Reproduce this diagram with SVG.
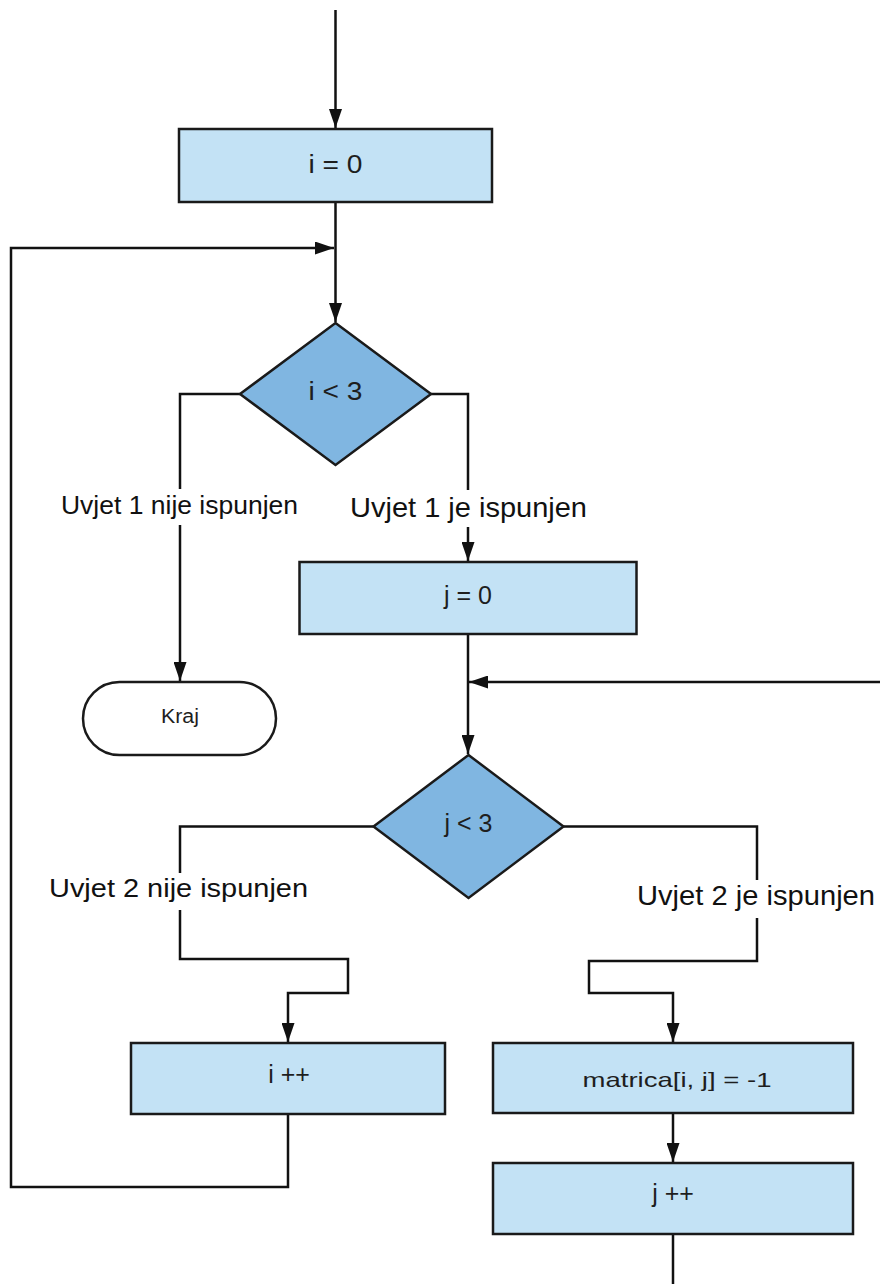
<svg xmlns="http://www.w3.org/2000/svg" width="880" height="1284" viewBox="0 0 880 1284">
<defs>
<marker id="ah" markerUnits="userSpaceOnUse" markerWidth="19" markerHeight="13" refX="19" refY="6.5" orient="auto">
<path d="M0,0 L19,6.5 L0,13 z" fill="#111"/>
</marker>
<style>
.box{fill:#C3E2F5;stroke:#1a1a1a;stroke-width:2.5}
.dia{fill:#80B6E1;stroke:#1a1a1a;stroke-width:2.5}
.term{fill:#fff;stroke:#1a1a1a;stroke-width:2.5}
.c{fill:none;stroke:#111;stroke-width:2.5}
.a{marker-end:url(#ah)}
text{font-family:"Liberation Sans",Arial,sans-serif;fill:#1e1e1e;text-anchor:middle}
.t{font-size:25px}
.lbl{font-size:27px;fill:#111}
</style>
</defs>
<rect width="880" height="1284" fill="#fff"/>
<g id="connectors">
<path class="c a" d="M335.5,10 V128"/>
<path class="c a" d="M335.5,202 V322"/>
<path class="c a" d="M288,1114 V1187 H11 V248 H334"/>
<path class="c" d="M240,394 H180 V489"/>
<path class="c a" d="M180,525 V681"/>
<path class="c" d="M431,394 H468 V490"/>
<path class="c a" d="M468,527 V561"/>
<path class="c a" d="M468,634 V754"/>
<path class="c a" d="M880,682 H469"/>
<path class="c" d="M373.5,826.5 H180 V873"/>
<path class="c a" d="M180,910 V959 H348 V993 H288 V1042"/>
<path class="c" d="M563.5,826.5 H757 V880"/>
<path class="c a" d="M757,918 V961 H589 V993 H673 V1042"/>
<path class="c a" d="M673,1113 V1162"/>
<path class="c" d="M673,1234 V1284"/>
</g>
<g id="label-u1-nije"><text class="lbl" x="179.5" y="514" font-size="26.5" style="font-size:26.5px" textLength="237" lengthAdjust="spacingAndGlyphs">Uvjet 1 nije ispunjen</text></g>
<g id="label-u1-je"><text class="lbl" x="468.5" y="517" style="font-size:28.5px" textLength="237" lengthAdjust="spacingAndGlyphs">Uvjet 1 je ispunjen</text></g>
<g id="label-u2-nije"><text class="lbl" x="178.5" y="897" style="font-size:26.5px" textLength="259" lengthAdjust="spacingAndGlyphs">Uvjet 2 nije ispunjen</text></g>
<g id="label-u2-je"><text class="lbl" x="756" y="905" style="font-size:28.5px" textLength="238" lengthAdjust="spacingAndGlyphs">Uvjet 2 je ispunjen</text></g>
<g id="node-i0">
<rect class="box" x="179" y="129" width="313" height="73"/>
<text class="t" x="335.5" y="173" textLength="54" lengthAdjust="spacingAndGlyphs">i = 0</text>
</g>
<g id="node-ilt3">
<polygon class="dia" points="335.5,323 431,394 335.5,465 240,394"/>
<text class="t" x="335.5" y="400" textLength="54" lengthAdjust="spacingAndGlyphs">i &lt; 3</text>
</g>
<g id="node-kraj">
<rect class="term" x="83" y="682" width="193" height="73" rx="36.5" ry="36.5"/>
<text x="180" y="723" style="font-size:20px" textLength="38" lengthAdjust="spacingAndGlyphs">Kraj</text>
</g>
<g id="node-j0">
<rect class="box" x="299.5" y="562" width="337" height="72"/>
<text class="t" x="468" y="604">j = 0</text>
</g>
<g id="node-jlt3">
<polygon class="dia" points="468.5,755 563.5,826.5 468.5,898 373.5,826.5"/>
<text class="t" x="468.5" y="832">j &lt; 3</text>
</g>
<g id="node-ipp">
<rect class="box" x="131" y="1043" width="314" height="71"/>
<text class="t" x="289" y="1083">i ++</text>
</g>
<g id="node-matrica">
<rect class="box" x="493" y="1043" width="360" height="70"/>
<text x="677" y="1087" style="font-size:21px" textLength="189" lengthAdjust="spacingAndGlyphs">matrica[i, j]  =  -1</text>
</g>
<g id="node-jpp">
<rect class="box" x="493" y="1163" width="360" height="71"/>
<text class="t" x="673" y="1202">j ++</text>
</g>
</svg>
